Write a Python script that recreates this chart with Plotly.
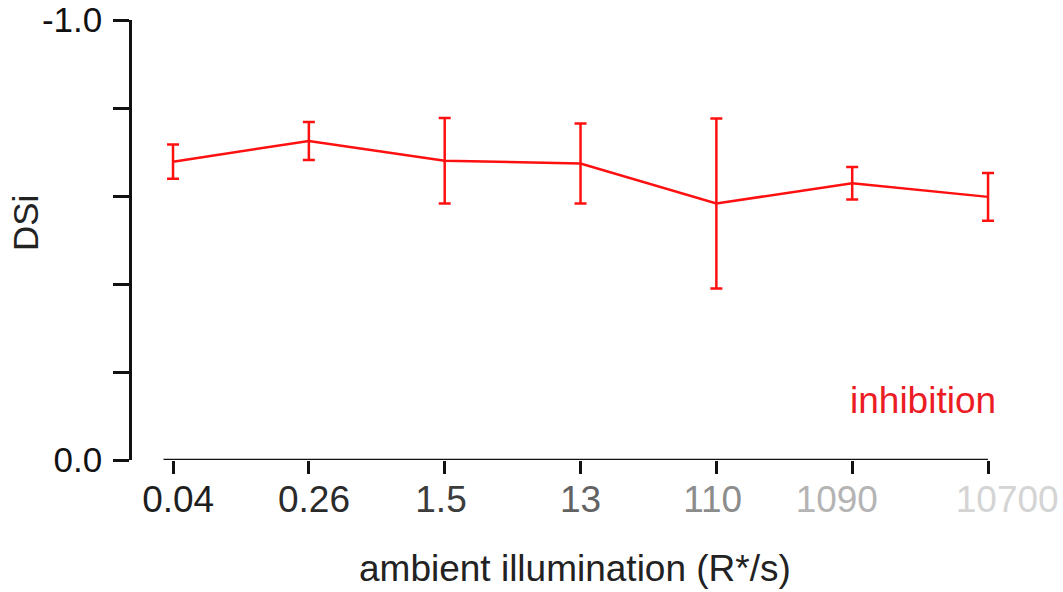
import plotly.graph_objects as go

categories = ["0.04", "0.26", "1.5", "13", "110", "1090", "10700"]
label_colors = ["#1e1e1e", "#2a2a2a", "#3c3c3c", "#626262", "#8c8c8c", "#b4b4b4", "#d4d4d4"]
dsi_values = [-0.678, -0.725, -0.680, -0.674, -0.583, -0.629, -0.598]
dsi_errors = [0.039, 0.043, 0.097, 0.091, 0.193, 0.037, 0.054]
y_tickvals = [-1.0, -0.8, -0.6, -0.4, -0.2, 0.0]
y_ticktext = ["-1.0", "", "", "", "", "0.0"]

FONT = "Liberation Sans, Arial, sans-serif"
xpos = list(range(len(categories)))

NB = "\u00a0"
TH = "\u2009"
# small horizontal nudges of labels as drawn in the reference
pads = [(NB, ""), (NB, ""), ("", TH), ("", ""), ("", TH), ("", NB * 3), (NB * 3 + TH, "")]

fig = go.Figure()
fig.add_trace(go.Scatter(
    x=xpos, y=dsi_values, mode="lines",
    line=dict(color="#ff1010", width=2.5),
    error_y=dict(type="data", array=dsi_errors, visible=True,
                 color="#ff1010", thickness=2.5, width=6),
    showlegend=False, hoverinfo="skip",
))

ticktext = [f'<span style="color:{c}">{p[0]}{t}{p[1]}</span>'
            for t, c, p in zip(categories, label_colors, pads)]

fig.update_layout(
    width=1063, height=592,
    margin=dict(l=132, r=63, t=20, b=132, autoexpand=False),
    paper_bgcolor="white", plot_bgcolor="white",
    font=dict(family=FONT, color="#222222"),
    xaxis=dict(
        range=[-0.302, 6.088], tickvals=xpos, ticktext=ticktext,
        showgrid=False, zeroline=False, showline=False, automargin=False,
        ticks="outside", ticklen=13, tickwidth=2.5, tickcolor="#111111",
        tickfont=dict(size=37, family=FONT), ticklabelstandoff=-6,
        ticklabeloverflow="allow",
    ),
    yaxis=dict(
        range=[0, -1.0], tickvals=y_tickvals, ticktext=y_ticktext, automargin=False,
        showgrid=False, zeroline=False, showline=True, linewidth=2.5, linecolor="#111111",
        ticks="outside", ticklen=16, tickwidth=2.5, tickcolor="#111111",
        tickfont=dict(size=35, family=FONT, color="#111111"), ticklabelstandoff=4,
        ticklabeloverflow="allow",
    ),
    shapes=[dict(type="line", xref="x", yref="y", x0=-0.07, x1=6.0, y0=0, y1=0,
                 line=dict(color="#111111", width=2.5))],
    annotations=[
        dict(text="DSi", xref="paper", yref="paper", x=(26-132)/868, y=(460-223)/440,
             xanchor="center", yanchor="middle", textangle=-90, showarrow=False,
             font=dict(size=35, family=FONT, color="#222222")),
        dict(text="ambient illumination (R*/s)", xref="paper", yref="paper",
             x=(575-132)/868, y=-(568-460)/440, xanchor="center", yanchor="middle",
             showarrow=False, font=dict(size=37, family=FONT, color="#222222")),
        dict(text="inhibition", xref="paper", yref="paper",
             x=(998-132)/868, y=(460-400)/440, xanchor="right", yanchor="middle",
             showarrow=False, font=dict(size=37, family=FONT, color="#ec1c24")),
    ],
)

fig.write_html("out.html", config={"displayModeBar": False},
               post_script="document.body.style.margin='0';document.body.style.overflow='hidden';")
